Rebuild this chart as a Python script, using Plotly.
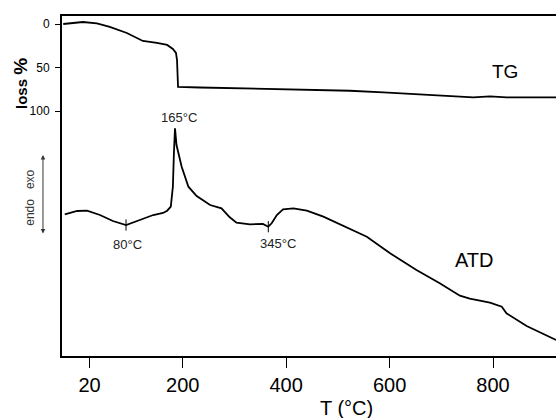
import plotly.graph_objects as go

# ---- data ----
tg_T = [-31, -14, 7, 34, 59, 92, 123, 150, 170, 181, 187, 189, 189.6, 191, 233, 330, 427, 523,
        588, 652, 717, 762, 794, 826, 871, 922]
tg_loss = [0, -1.1, -2.3, -0.6, 3.4, 10.3, 19.5, 21.8, 24.1, 28.7, 33.3, 41.4, 64.4, 72.4, 73.0,
           74.1, 75.3, 76.7, 78.5, 80.5, 82.4, 84.3, 83.1, 84.3, 84.3, 84.3]

atd_T = [-28, -4, 15, 40, 65, 90.4, 117, 143, 162, 170, 177, 181, 183, 185.1, 188, 198, 211, 227,
         253, 275, 291, 304, 330, 355, 365.5, 372, 382, 394, 414, 440, 472, 510, 556, 601, 652,
         697, 736, 755, 794, 817, 826, 865, 922]
atd_signal = [14.17, 14.5, 14.53, 14.1, 13.5, 13.1, 13.6, 14.1, 14.3, 14.53, 14.93, 16.93, 20.3,
              22.77, 21.1, 18.93, 16.93, 16.0, 15.1, 14.77, 13.87, 13.33, 13.17, 13.2, 12.93, 13.27,
              14.1, 14.67, 14.77, 14.53, 13.93, 13.03, 11.93, 10.27, 8.6, 7.27, 6.03, 5.73, 5.33,
              4.93, 4.27, 3.0, 1.6]

peak_T = [90.4, 185.1, 365.5]
peak_signal = [13.1, 22.77, 12.93]
peak_labels = ["80°C", "165°C", "345°C"]
min_T = [90.4, 365.5]
min_signal = [13.1, 12.93]

x_ticks = [20, 200, 400, 600, 800]
y_ticks = [0, 50, 100]

FONT = "Liberation Sans, Arial, sans-serif"

fig = go.Figure()
fig.add_trace(go.Scatter(x=tg_T, y=tg_loss, mode="lines", yaxis="y",
                         line=dict(color="black", width=1.8), showlegend=False))
fig.add_trace(go.Scatter(x=atd_T, y=atd_signal, mode="lines", yaxis="y2",
                         line=dict(color="black", width=1.8), showlegend=False))
fig.add_trace(go.Scatter(x=min_T, y=min_signal, mode="markers", yaxis="y2",
                         marker=dict(symbol="line-ns", size=8, line=dict(color="black", width=1)),
                         showlegend=False))

annotations = []
shifts = [(1, -19), (4, 11), (10, -17)]
for t, s, lab, (dx, dy) in zip(peak_T, peak_signal, peak_labels, shifts):
    annotations.append(dict(x=t, y=s, xref="x", yref="y2", text=lab, showarrow=False,
                            xshift=dx, yshift=dy, xanchor="center", yanchor="middle",
                            font=dict(size=13, color="#222", family=FONT)))

annotations += [
    dict(x=823, y=54.6, xref="x", yref="y", text="TG", showarrow=False,
         xanchor="center", yanchor="middle",
         font=dict(size=19, color="black", family=FONT)),
    dict(x=764, y=9.6, xref="x", yref="y2", text="ATD", showarrow=False,
         xanchor="center", yanchor="middle",
         font=dict(size=20, color="black", family=FONT)),
    dict(x=0.575, y=-0.153, xref="paper", yref="paper", text="T (°C)", showarrow=False,
         xanchor="center", yanchor="middle",
         font=dict(size=20, color="black", family=FONT)),
    dict(x=-0.083, y=0.803, xref="paper", yref="paper",
         text="<b><span style='font-size:15px'>loss</span> <span style='font-size:19px'>%</span></b>",
         textangle=-90, showarrow=False, xanchor="center", yanchor="middle",
         font=dict(size=15, color="black", family=FONT)),
    dict(x=-0.065, y=0.465, xref="paper", yref="paper", text="endo   exo", textangle=-90,
         showarrow=False, xanchor="center", yanchor="middle",
         font=dict(size=12, color="#333", family=FONT)),
    dict(x=-0.0385, y=0.591, xref="paper", yref="paper", text="", showarrow=True,
         ax=0, ay=80, arrowside="end+start", arrowhead=2, startarrowhead=2,
         arrowsize=0.9, startarrowsize=0.9, arrowwidth=1, arrowcolor="#333"),
]

fig.update_layout(
    width=556, height=418,
    margin=dict(l=62, r=0, t=16, b=62),
    paper_bgcolor="white", plot_bgcolor="white",
    font=dict(family=FONT, color="black"),
    xaxis=dict(range=[-33.4, 921.8], tickvals=x_ticks, ticks="outside", ticklen=10,
               tickwidth=1, tickcolor="black", showline=True, linewidth=2, linecolor="black",
               mirror=True, showgrid=False, zeroline=False,
               tickfont=dict(size=20, color="black", family=FONT)),
    yaxis=dict(range=[381.6, -9.2], tickvals=y_ticks, ticks="outside", ticklen=5,
               tickwidth=1, tickcolor="black", showline=True, linewidth=2, linecolor="black",
               showgrid=False, zeroline=False, ticklabelstandoff=3,
               tickfont=dict(size=12, color="black", family=FONT)),
    yaxis2=dict(range=[0, 34], overlaying="y", visible=False, showgrid=False, zeroline=False),
    annotations=annotations,
)

fig.write_html("out.html", config={"displayModeBar": False},
               post_script="document.body.style.margin='0';document.body.style.overflow='hidden';")
